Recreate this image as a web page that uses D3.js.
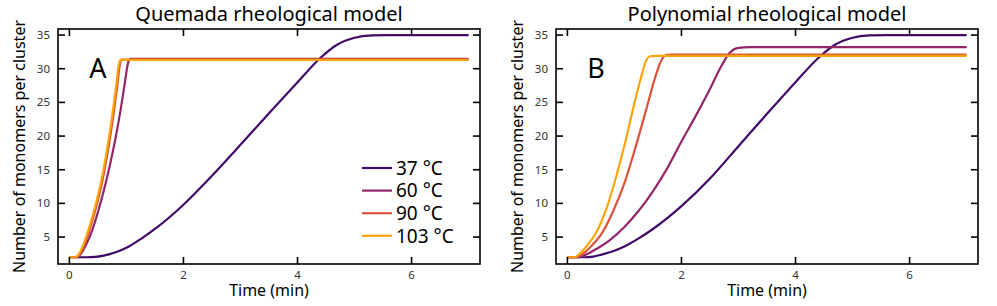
<!DOCTYPE html>
<html lang="en">
<head>
    <meta charset="UTF-8">
    <title>Monomers per cluster</title>
    <script src="https://d3js.org/d3.v7.min.js"></script>
    <style>
        body { margin: 0; background: white; font-family: "Noto Sans", sans-serif; }
        .tick-label { font-size: 11.5px; fill: #333; }
        .axis-label { font-size: 16px; fill: #000; }
        .title { font-size: 20px; fill: #000; }
    </style>
</head>
<body>
    <div id="chart"></div>
    <script>
        // series labels and colours
        const labels = ["37 °C", "60 °C", "90 °C", "103 °C"];
        const colors = ["#420a68", "#932667", "#dd513a", "#fca50a"];

        const xTicks = [0, 2, 4, 6];
        const yTicks = [5, 10, 15, 20, 25, 30, 35];

        // Quemada model: [time (min), monomers per cluster]
        const quemada37 = [[0,2],[0.3,2],[0.45,2.05],[0.6,2.25],[0.8,2.7],[1.0,3.4],[1.25,4.7],[1.5,6.2],[2.0,9.8],[2.5,14.1],[3.0,18.7],[3.5,23.4],[4.0,28.0],[4.4,31.6],[4.7,33.6],[5.0,34.6],[5.3,34.95],[5.6,35],[7,35]];
        const quemada60 = [[0,2],[0.12,2],[0.2,2.5],[0.3,4],[0.4,6],[0.5,8.7],[0.6,11.8],[0.7,15.3],[0.8,19.3],[0.9,24],[0.97,27.8],[1.03,30.9],[1.07,31.45],[7,31.45]];
        const quemada90 = [[0,2],[0.11,2],[0.17,2.3],[0.27,4],[0.37,6.5],[0.47,9.5],[0.57,13],[0.67,17.5],[0.77,23],[0.84,27.5],[0.89,30.8],[0.92,31.35],[7,31.35]];
        const quemada103 = [[0,2],[0.1,2],[0.15,2.3],[0.25,4],[0.35,6.5],[0.45,9.5],[0.55,13],[0.65,17.5],[0.75,23],[0.82,27.5],[0.87,30.8],[0.9,31.3],[7,31.3]];

        // Polynomial model
        const poly37 = [[0,2],[0.3,2],[0.45,2.1],[0.6,2.4],[0.8,2.9],[1.0,3.6],[1.25,4.8],[1.5,6.2],[2.0,9.6],[2.5,13.7],[3.0,18.5],[3.5,23.3],[4.0,28.0],[4.4,31.6],[4.7,33.6],[5.0,34.6],[5.3,34.95],[5.6,35],[7,35]];
        const poly60 = [[0,2],[0.2,2],[0.3,2.3],[0.5,3.2],[0.75,4.6],[1.0,6.5],[1.25,8.9],[1.5,11.8],[1.75,15.2],[2.0,19.2],[2.25,23],[2.5,27],[2.7,30.4],[2.85,32.4],[3.0,33.1],[3.2,33.2],[7,33.2]];
        const poly90 = [[0,2],[0.15,2],[0.25,2.4],[0.4,3.5],[0.6,5.5],[0.8,8.8],[1.0,13],[1.2,18.5],[1.4,24.5],[1.55,29],[1.65,31.3],[1.75,32.05],[1.85,32.1],[7,32.1]];
        const poly103 = [[0,2],[0.12,2],[0.2,2.4],[0.35,3.8],[0.5,5.6],[0.7,9.6],[0.85,13.8],[1.0,18.6],[1.15,24],[1.3,29],[1.38,31.2],[1.45,31.85],[1.55,31.9],[7,31.9]];

        const svg = d3.select("#chart")
            .append("svg")
            .attr("width", 997)
            .attr("height", 306);

        createPanel(58, "Quemada rheological model", "A", [quemada37, quemada60, quemada90, quemada103], true);
        createPanel(556, "Polynomial rheological model", "B", [poly37, poly60, poly90, poly103], false);

        function createPanel(left, title, letter, series, showLegend) {
            const width = 422, top = 29, bottom = 264;

            const x = d3.scaleLinear().domain([-0.2, 7.2]).range([left, left + width]);
            const y = d3.scaleLinear().domain([1.0, 35.9]).range([bottom, top]);
            const tickLen = 7;

            const g = svg.append("g");

            // curves
            const line = d3.line()
                .x(d => x(d[0]))
                .y(d => y(d[1]))
                .curve(d3.curveMonotoneX);

            series.forEach((s, i) => {
                g.append("path")
                    .datum(s)
                    .attr("d", line)
                    .attr("fill", "none")
                    .attr("stroke", colors[i])
                    .attr("stroke-width", 2.2);
            });

            // box frame
            g.append("rect")
                .attr("x", left)
                .attr("y", top)
                .attr("width", width)
                .attr("height", bottom - top)
                .attr("fill", "none")
                .attr("stroke", "#000")
                .attr("stroke-width", 1.6);

            // ticks, mirrored on all sides and pointing in
            xTicks.forEach(t => {
                g.append("line").attr("x1", x(t)).attr("x2", x(t))
                    .attr("y1", bottom).attr("y2", bottom - tickLen)
                    .attr("stroke", "#000").attr("stroke-width", 1.6);
                g.append("line").attr("x1", x(t)).attr("x2", x(t))
                    .attr("y1", top).attr("y2", top + tickLen)
                    .attr("stroke", "#000").attr("stroke-width", 1.6);
                g.append("text").attr("class", "tick-label")
                    .attr("x", x(t)).attr("y", bottom + 14.5)
                    .attr("text-anchor", "middle")
                    .text(t);
            });

            yTicks.forEach(t => {
                g.append("line").attr("x1", left).attr("x2", left + tickLen)
                    .attr("y1", y(t)).attr("y2", y(t))
                    .attr("stroke", "#000").attr("stroke-width", 1.6);
                g.append("line").attr("x1", left + width).attr("x2", left + width - tickLen)
                    .attr("y1", y(t)).attr("y2", y(t))
                    .attr("stroke", "#000").attr("stroke-width", 1.6);
                g.append("text").attr("class", "tick-label")
                    .attr("x", left - 8).attr("y", y(t))
                    .attr("dy", "0.35em")
                    .attr("text-anchor", "end")
                    .text(t);
            });

            g.append("text").attr("class", "title")
                .attr("x", left + width / 2).attr("y", 21)
                .attr("text-anchor", "middle")
                .text(title);

            g.append("text").attr("class", "axis-label")
                .attr("x", left + width / 2).attr("y", 296)
                .attr("text-anchor", "middle")
                .text("Time (min)");

            g.append("text").attr("class", "axis-label")
                .attr("transform", `translate(${left - 33},${(top + bottom) / 2}) rotate(-90)`)
                .attr("text-anchor", "middle")
                .text("Number of monomers per cluster");

            g.append("text")
                .attr("x", x(0.5)).attr("y", y(30))
                .attr("dy", "0.36em")
                .attr("text-anchor", "middle")
                .style("font-size", "27px")
                .text(letter);

            if (showLegend) {
                const lx = 362;
                labels.forEach((lab, i) => {
                    const ly = 168 + i * 22.6;
                    g.append("line").attr("x1", lx).attr("x2", lx + 30)
                        .attr("y1", ly).attr("y2", ly)
                        .attr("stroke", colors[i]).attr("stroke-width", 2.2);
                    g.append("text")
                        .attr("x", lx + 34).attr("y", ly)
                        .attr("dy", "0.36em")
                        .style("font-size", "19px")
                        .text(lab);
                });
            }
        }
    </script>
</body>
</html>
